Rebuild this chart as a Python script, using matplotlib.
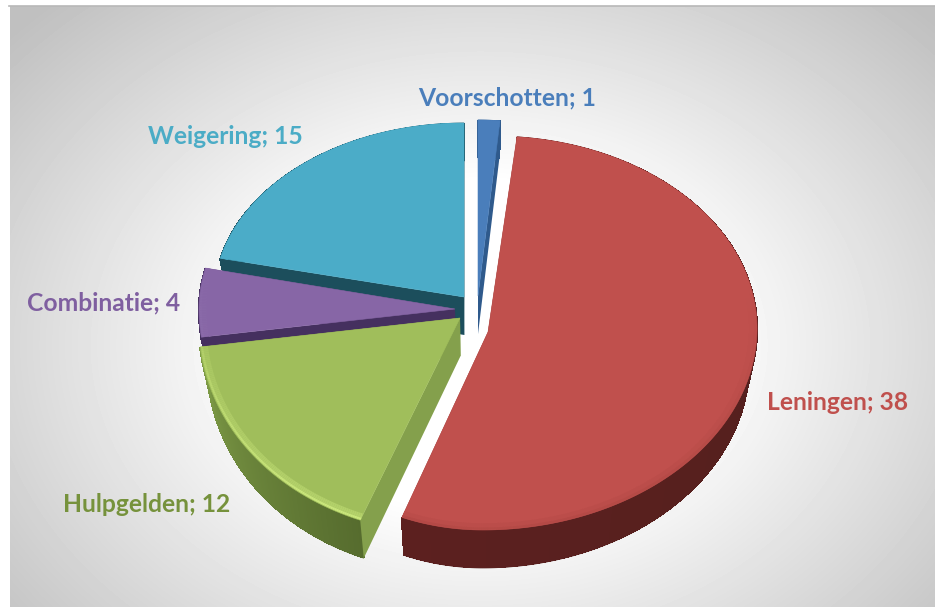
"""Exploded 3D-look pie of the decision counts, drawn with plain polygons."""

from __future__ import annotations

import matplotlib.pyplot as plt
from matplotlib.colors import to_rgb
import numpy as np

# Data
categories = ["Voorschotten", "Leningen", "Hulpgelden", "Combinatie", "Weigering"]
values = [1, 38, 12, 4, 15]

# Styles per slice, same order as categories
top_colors = ["#4a7ebb", "#c0504d", "#a0be5b", "#8766a6", "#4bacc8"]
wall_start = ["#2f5a8c", "#4e1f1d", "#566c2e", "#45305f", "#1c4e5c"]
wall_end = ["#2f5a8c", "#5c201f", "#7d9a46", "#45305f", "#1c4e5c"]
cut_colors = ["#2f5a8c", "#5c201f", "#84a04c", "#45305f", "#1c4e5c"]
rim_colors = ["#4a7ebb", "#b04743", "#dcf88a", "#9478b2", "#4bacc8"]
label_colors = ["#4a7ebb", "#c0504d", "#76923c", "#7f5fa0", "#4bacc6"]

# Apex of each exploded slice, radii (right, left, top, bottom) and a small skew
apexes = [(478, 296), (488, 332), (460, 318), (455, 309), (464, 297)]
radii = [
    (245, 245, 176, 176),
    (269, 232, 196, 198),
    (261, 261, 200, 216),
    (256, 256, 184, 210),
    (250, 250, 174, 174),
]
skews = [0, -0.025, -0.04, 0, 0]
DEPTH = 38
WALL_SCALE = 0.97  # the wall bottom is a bit narrower than the top
WALL_CENTER = 478

label_pos = [(507, 98), (838, 403), (147, 505), (104, 303), (225, 136)]

# back to front, so the front slices cover the walls behind them
draw_order = {0: 1, 4: 2, 3: 3, 2: 4, 1: 5}


def project(i, theta, r=1.0):
    """Clockwise angle from twelve o'clock to picture coordinates."""
    rr, rl, rt, rb = radii[i]
    s, c = np.sin(theta), np.cos(theta)
    dy = -r * c * np.where(c >= 0, rt, rb)
    x = apexes[i][0] + r * s * np.where(s >= 0, rr, rl) + skews[i] * dy
    return x, apexes[i][1] + dy


def lower(x):
    return WALL_CENTER + (np.asarray(x) - WALL_CENTER) * WALL_SCALE


def mix(a, b, t):
    a, b = np.array(to_rgb(a)), np.array(to_rgb(b))
    return tuple(a + (b - a) * t)


def draw_slice(ax, i, start, end):
    thetas = np.linspace(start, end, int(np.degrees(end - start)) * 2 + 3)
    x, y = project(i, thetas)
    ax0, ay0 = apexes[i]
    z = draw_order[i]

    # outer wall: smooth outline first, then the shade along the arc
    mean_col = mix(wall_start[i], wall_end[i], 0.5)
    ax.fill(np.r_[x, lower(x)[::-1]], np.r_[y, (y + DEPTH)[::-1]], color=mean_col, lw=0.5, zorder=z)
    xl = lower(x)
    for k in range(len(thetas) - 1):
        col = mix(wall_start[i], wall_end[i], k / (len(thetas) - 2))
        ax.fill(
            [x[k], x[k + 1], xl[k + 1], xl[k]],
            [y[k] + 0.8, y[k + 1] + 0.8, y[k + 1] + DEPTH - 0.8, y[k] + DEPTH - 0.8],
            color=col,
            lw=0.8,
            antialiased=False,
            zorder=z,
        )

    # cut faces at both radial edges
    for xe, ye in ((x[0], y[0]), (x[-1], y[-1])):
        ax.fill(
            [ax0, xe, lower(xe), lower(ax0)],
            [ay0, ye, ye + DEPTH, ay0 + DEPTH],
            color=cut_colors[i],
            lw=0,
            zorder=z,
        )

    # top surface
    ax.fill(np.r_[ax0, x], np.r_[ay0, y], color=top_colors[i], lw=0.4, zorder=z + 0.1)

    # soft rim, strongest on the lower front of the arc
    for r, lw, gain in ((0.982, 4.5, 0.45), (0.993, 1.6, 1.0)):
        xr, yr = project(i, thetas, r)
        for k in range(len(thetas) - 1):
            t = np.clip(-np.cos(thetas[k]) * 0.7 + 0.2 * abs(np.sin(thetas[k])), 0, 1) * gain
            ax.plot(
                xr[k : k + 2],
                yr[k : k + 2],
                color=mix(top_colors[i], rim_colors[i], t),
                lw=lw,
                solid_capstyle="butt",
                zorder=z + 0.2,
            )


def main() -> None:
    fig = plt.figure(figsize=(9.35, 6.07), dpi=100)
    ax = fig.add_axes([0, 0, 1, 1])

    # grey panel with a white glow in the middle
    yy, xx = np.mgrid[6:607, 10:935]
    d = np.sqrt(((xx - 480) / 570) ** 2 + ((yy - 345) / 430) ** 2)
    shade = 1.0 - 0.25 * np.clip((d - 0.38) / 0.72, 0, 1)
    ax.imshow(shade, extent=(10, 935, 607, 6), cmap="gray", vmin=0, vmax=1, aspect="auto", zorder=0)
    ax.plot([9, 935], [5.5, 5.5], color="#b8b8b8", lw=1.2, zorder=0.5)

    edges = np.r_[0, np.cumsum(values)] / np.sum(values) * 2 * np.pi
    for i in range(len(values)):
        draw_slice(ax, i, edges[i], edges[i + 1])

    for name, val, (x, y), col in zip(categories, values, label_pos, label_colors):
        ax.text(x, y, f"{name}; {val}", color=col, fontsize=17.7, fontweight="bold",
                family="Lato", ha="center", va="center", zorder=10)

    ax.set_xlim(0, 935)
    ax.set_ylim(607, 0)
    ax.axis("off")
    fig.savefig("out.png", dpi=100, facecolor="white")


if __name__ == "__main__":
    main()
